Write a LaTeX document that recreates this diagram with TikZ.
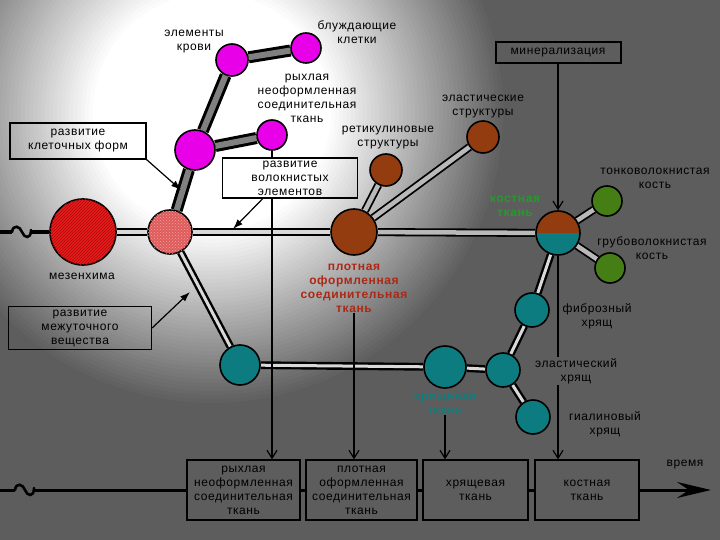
\documentclass[tikz,border=0pt]{standalone}
\usepackage{fontspec}
\newfontfamily\lab[LetterSpace=5]{Liberation Sans}
\usetikzlibrary{arrows.meta,patterns,calc,backgrounds}
\definecolor{bggray}{RGB}{93,93,93}
\definecolor{mesred}{RGB}{232,28,28}
\definecolor{mesdark}{RGB}{170,10,10}
\definecolor{pinkc}{RGB}{222,92,92}
\definecolor{pinkdot}{RGB}{245,160,160}
\definecolor{magc}{RGB}{232,0,232}
\definecolor{brownc}{RGB}{146,60,16}
\definecolor{tealc}{RGB}{12,124,128}
\definecolor{greenc}{RGB}{70,126,22}
\definecolor{redtxt}{RGB}{172,40,22}
\definecolor{greentxt}{RGB}{40,152,46}
\definecolor{tealtxt}{RGB}{18,124,124}
\tikzset{
  cell/.style={circle, draw=black, line width=1.6pt, inner sep=0pt, minimum size=#1},
  tag/.style={font=\lab\fontsize{12}{14}\selectfont, align=center, inner sep=1pt},
  boldtag/.style={tag, font=\lab\bfseries\fontsize{12}{14}\selectfont},
  framebox/.style={tag, draw=black, line width=1.2pt},
  dbl/.style={draw=black, line width=2.4pt, double=gray!30, double distance=3pt},
  dotdbl/.style={draw=black, line width=1.8pt, double=gray!55, double distance=4.5pt},
  stem/.style={draw=black, line width=3pt, double=gray, double distance=6pt},
  guide/.style={line width=1.2pt, -{Straight Barb[length=8pt,width=10pt]}},
  pointer/.style={line width=1.2pt, -{Latex[length=10pt,width=7pt]}},
  timeline/.style={line width=3pt},
  breakmark/.style={line width=2.6pt, line cap=round},
}
\begin{document}
\begin{tikzpicture}[x=1pt,y=-1pt]
  \useasboundingbox (0,0) rectangle (720,540);
  % background with glow
  \begin{scope}[on background layer]
    \fill[bggray] (0,0) rectangle (720,540);
    \begin{scope}
      \clip (0,0) rectangle (720,540);
      \foreach \k in {0,...,44} {
        \pgfmathsetmacro\rad{295-4*\k}
        \pgfmathsetmacro\mix{100*\k/44}
        \fill[white!\mix!bggray] (212,112) circle (\rad);
      }
    \end{scope}
  \end{scope}
  % cells
  \node[cell=66, fill=mesred, postaction={pattern=north east lines, pattern color=mesdark}] (mesench) at (83,232) {};
  \node[cell=44, fill=pinkc, postaction={pattern=crosshatch dots, pattern color=pinkdot}] (pinkcell) at (170,232) {};
  \node[cell=40, fill=magc] (bigpink) at (195,150) {};
  \node[cell=32, fill=magc] (blood) at (232,60) {};
  \node[cell=30, fill=magc] (wander) at (306,48) {};
  \node[cell=30, fill=magc] (loose) at (272,135) {};
  \node[cell=46, fill=brownc] (dense) at (354,232) {};
  \node[cell=32, fill=brownc] (retic) at (386,170) {};
  \node[cell=32, fill=brownc] (elast) at (483,137) {};
  \node[cell=44, fill=brownc, path picture={\fill[tealc] (path picture bounding box.west) rectangle (path picture bounding box.south east);}] (bone) at (558,233) {};
  \node[cell=30, fill=greenc] (thin) at (607,201) {};
  \node[cell=30, fill=greenc] (coarse) at (610,268) {};
  \node[cell=40, fill=tealc] (interc) at (240,365) {};
  \node[cell=42, fill=tealc] (cart) at (445,367) {};
  \node[cell=34, fill=tealc] (elcart) at (503,370) {};
  \node[cell=34, fill=tealc] (fibcart) at (532,310) {};
  \node[cell=34, fill=tealc] (hyacart) at (533,417) {};
  % breaks
  \coordinate (leftA) at (0,232);
  \coordinate (leftB) at (0,490);
  \coordinate (tildeAw) at (12,232);
  \coordinate (tildeAe) at (32,232);
  \coordinate (tildeBw) at (15,490);
  \coordinate (tildeBe) at (35,490);
  \draw[breakmark] (tildeAw) .. controls (13,224) and (20,226) .. (22,232) .. controls (24,238) and (31,240) .. (31,230);
  \draw[breakmark] (tildeBw) .. controls (16,482) and (23,484) .. (25,490) .. controls (27,496) and (34,498) .. (34,488);
  % connectors
  \begin{scope}[on background layer]
    \draw[timeline] (leftA) -- (tildeAw);
    \draw[timeline] (tildeAe) -- (mesench);
    \draw[dbl] (mesench) -- (pinkcell);
    \draw[dbl] (pinkcell) -- (dense);
    \draw[dotdbl] (dense) -- (bone);
    \draw[dotdbl] (dense) -- (retic);
    \draw[dotdbl] (dense) -- (elast);
    \draw[dotdbl] (bone) -- (thin);
    \draw[dotdbl] (bone) -- (coarse);
    \draw[stem] (pinkcell) -- (bigpink);
    \draw[stem] (bigpink) -- (blood);
    \draw[stem] (blood) -- (wander);
    \draw[stem] (bigpink) -- (loose);
    \draw[dbl] (pinkcell) -- (interc);
    \draw[dbl] (interc) -- (cart);
    \draw[dbl] (cart) -- (elcart);
    \draw[dbl] (elcart) -- (fibcart);
    \draw[dbl] (elcart) -- (hyacart);
    \draw[dbl] (fibcart) -- (bone);
  \end{scope}
  % labels
  \node[tag] (bloodlbl) at (194,42) {элементы\\крови};
  \node[tag] (wanderlbl) at (357,32) {блуждающие\\клетки};
  \node[tag] (looselbl) at (307,98) {рыхлая\\неоформленная\\соединительная\\ткань};
  \node[tag] (reticlbl) at (388,138) {ретикулиновые\\структуры};
  \node[tag] (elastlbl) at (483,107) {эластические\\структуры};
  \node[tag] (meslbl) at (82,276) {мезенхима};
  \node[boldtag, text=redtxt] (denselbl) at (354,288) {плотная\\оформленная\\соединительная\\ткань};
  \node[boldtag, text=greentxt] (bonelbl) at (515,206) {костная\\ткань};
  \node[tag] (thinlbl) at (655,178) {тонковолокнистая\\кость};
  \node[tag] (coarselbl) at (652,248) {грубоволокнистая\\кость};
  \node[boldtag, text=tealtxt] (cartlbl) at (445,404) {хрящевая\\ткань};
  \node[tag] (fiblbl) at (597,316) {фиброзный\\хрящ};
  \node[tag] (hyalbl) at (605,424) {гиалиновый\\хрящ};
  % boxes
  \node[framebox, minimum width=136, minimum height=36] (cellbox) at (78,141) {развитие\\клеточных форм};
  \node[framebox, minimum width=135, minimum height=40] (fiberbox) at (290,178) {развитие\\волокнистых\\элементов};
  \node[framebox, minimum width=143, minimum height=43] (interbox) at (80,328) {развитие\\межуточного\\вещества};
  \node[framebox, line width=2pt, minimum width=125, minimum height=21] (mineral) at (558,53) {минерализация};
  \node[framebox, minimum width=113, minimum height=60] (b1) at (243.5,490) {рыхлая\\неоформленная\\соединительная\\ткань};
  \node[framebox, minimum width=111, minimum height=60] (b2) at (361.5,490) {плотная\\оформленная\\соединительная\\ткань};
  \node[framebox, minimum width=105, minimum height=60] (b3) at (475.5,490) {хрящевая\\ткань};
  \node[framebox, minimum width=104, minimum height=60] (b4) at (587,490) {костная\\ткань};
  % pointers
  \coordinate (celltip) at (181,190);
  \coordinate (fibertip) at (233,229);
  \coordinate (intertip) at (190,292);
  \draw[pointer] (cellbox.south east) -- (celltip);
  \draw[pointer] ($(fiberbox.south west)!0.3!(fiberbox.south east)$) -- (fibertip);
  \draw[pointer] (interbox.east) -- (intertip);
  % guides to the tissue boxes
  \draw[line width=1.2pt] (loose.south) -- (loose |- fiberbox.north);
  \draw[guide] (loose |- fiberbox.south) -- (loose |- b1.north);
  \draw[guide] (denselbl.south) -- (denselbl.south |- b2.north);
  \draw[guide] (cartlbl.south) -- (cartlbl.south |- b3.north);
  \draw[guide] (mineral.south) -- (bone.north);
  \draw[guide] (bone.south) -- (bone.south |- b4.north);
  \node[tag, fill=bggray] (elcartlbl) at (576,371) {эластический\\хрящ};
  % time axis
  \coordinate (timeend) at (711,490);
  \draw[timeline] (leftB) -- (tildeBw);
  \draw[timeline] (tildeBe) -- (b1.west);
  \draw[timeline] (b1.east) -- (b2.west);
  \draw[timeline] (b2.east) -- (b3.west);
  \draw[timeline] (b3.east) -- (b4.west);
  \draw[timeline, -{Stealth[length=34pt,width=16pt,inset=12pt]}] (b4.east) -- (timeend);
  \node[tag] (timelbl) at (685,465) {время};
\end{tikzpicture}
\end{document}
